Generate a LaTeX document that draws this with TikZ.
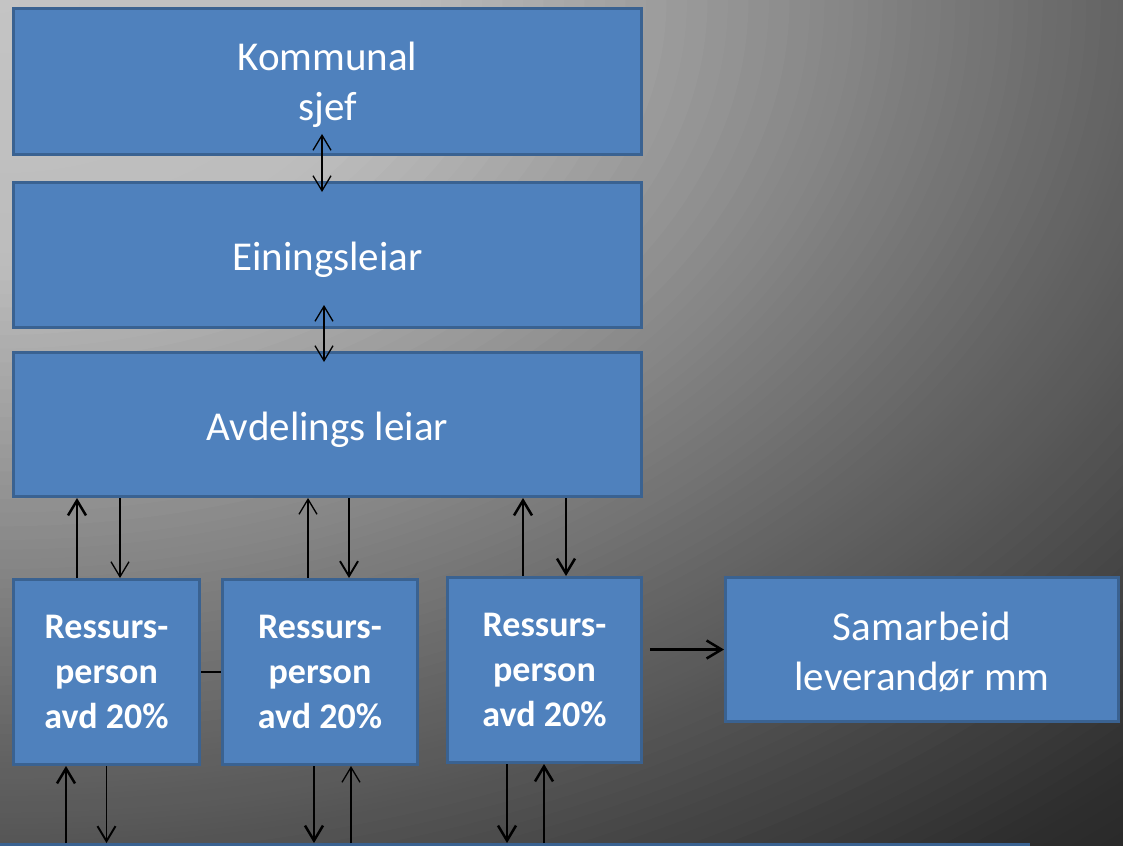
\documentclass[tikz,border=0pt]{standalone}
\usepackage{fontspec}
\setmainfont{Carlito}
\usetikzlibrary{arrows.meta}
\definecolor{boxfill}{HTML}{4F81BD}
\definecolor{boxline}{HTML}{3A6291}
\begin{document}
\begin{tikzpicture}[x=1pt,y=-1pt,
  box/.style={draw=boxline, fill=boxfill, line width=3pt, text=white, align=center, inner sep=0pt},
  bigtext/.style={font=\fontsize{41}{50}\selectfont, text=white, align=center, inner sep=0pt},
  smalltext/.style={font=\fontsize{36}{45}\selectfont\bfseries},
  tip/.style={-{Straight Barb[length=15pt,width=18pt]}},
  dbl/.style={{Straight Barb[length=15pt,width=18pt]}-{Straight Barb[length=15pt,width=18pt]}, line width=1.3pt},
  thickline/.style={line width=2.5pt},
  medline/.style={line width=1.9pt},
  thinline/.style={line width=1.3pt}]
\useasboundingbox (0,0) rectangle (1123,845);
\clip (0,0) rectangle (1123,845);
% background: elliptical radial gradient from the top-left corner
\foreach \da/\va/\db/\vb in {1800/36/1613/46, 1613/46/1270/85, 1270/85/1101/102, 1101/102/810/138, 810/138/400/188, 400/188/0/196} {
  \foreach \j in {0,...,19} {
    \pgfmathsetmacro{\rr}{\da-(\da-\db)*\j/20}
    \pgfmathsetmacro{\ry}{\rr/1.5}
    \pgfmathsetmacro{\vv}{(\va+(\vb-\va)*(\j+0.5)/20)/255}
    \definecolor{cur}{gray}{\vv}
    \fill[cur] (0,0) ellipse [x radius=\rr pt, y radius=\ry pt];
  }
}

\node[box, minimum width=628pt, minimum height=146pt] (k) at (327.5,81.5) {};
\node[bigtext] (kt) at ([yshift=-3pt]k.center) {Kommunal\\sjef};
\node[box, minimum width=628pt, minimum height=145pt] (e) at (327.5,255) {};
\node[bigtext] (et) at ([yshift=-5pt]e.center) {Einingsleiar};
\node[box, minimum width=628pt, minimum height=144pt] (a) at (327.5,424.5) {};
\node[bigtext] (at) at ([yshift=-5pt]a.center) {Avdelings leiar};

\node[box, smalltext, minimum width=186pt, minimum height=185pt] (r1) at (106.5,672) {Ressurs-\\person\\avd 20\%};
\node[box, smalltext, minimum width=195pt, minimum height=185pt] (r2) at (320,672) {Ressurs-\\person\\avd 20\%};
\node[box, smalltext, minimum width=194pt, minimum height=185pt] (r3) at (544.5,670) {Ressurs-\\person\\avd 20\%};
\node[box, minimum width=393pt, minimum height=144pt] (s) at (922,649.5) {};
\node[bigtext] (st) at ([yshift=-2pt]s.center) {Samarbeid\\leverandør mm};
\node[box, minimum width=1040pt, minimum height=60pt] (b) at (508.5,874.5) {};

% double arrows top
\draw[dbl] ([xshift=-5.5pt,yshift=22pt]k.south) -- ([xshift=-5.5pt,yshift=-11pt]e.north);
\draw[dbl] ([xshift=-3.5pt,yshift=24pt]e.south) -- ([xshift=-3.5pt,yshift=-11pt]a.north);

% arrows between Avdelings leiar and resource boxes
\coordinate (u1) at ([xshift=-29.5pt]r1.north);
\coordinate (d1) at ([xshift=13.5pt]r1.north);
\coordinate (u2) at ([xshift=-12pt]r2.north);
\coordinate (d2) at ([xshift=29pt]r2.north);
\coordinate (u3) at ([xshift=-21.5pt]r3.north);
\coordinate (d3) at ([xshift=21.5pt]r3.north);
\draw[tip, thickline] (u1) -- (u1 |- a.south);
\draw[tip, thinline] (d1 |- a.south) -- (d1);
\draw[tip, thinline] (u2) -- (u2 |- a.south);
\draw[tip, medline] (d2 |- a.south) -- (d2);
\draw[tip, thickline] (u3) -- (u3 |- a.south);
\draw[tip, thickline] (d3 |- a.south) -- (d3);

% arrows between resource boxes and bottom box
\coordinate (bu1) at ([xshift=-40.5pt]r1.south);
\coordinate (bd1) at ([xshift=0pt]r1.south);
\coordinate (bd2) at ([xshift=-6pt]r2.south);
\coordinate (bu2) at ([xshift=31pt]r2.south);
\coordinate (bd3) at ([xshift=-37.5pt]r3.south);
\coordinate (bu3) at ([xshift=-0.5pt]r3.south);
\draw[tip, thickline] (bu1 |- b.north) -- (bu1);
\draw[tip, medline] (bd1) -- (bd1 |- b.north);
\draw[tip, thickline] (bd2) -- (bd2 |- b.north);
\draw[tip, thinline] (bu2 |- b.north) -- (bu2);
\draw[tip, thickline] (bd3) -- (bd3 |- b.north);
\draw[tip, thickline] (bu3 |- b.north) -- (bu3);

% horizontal connectors
\draw[thickline] (r1.east) -- (r2.west);
\draw[tip, thickline, shorten <=7pt] (s.west -| r3.east) -- (s.west);
\end{tikzpicture}
\end{document}
